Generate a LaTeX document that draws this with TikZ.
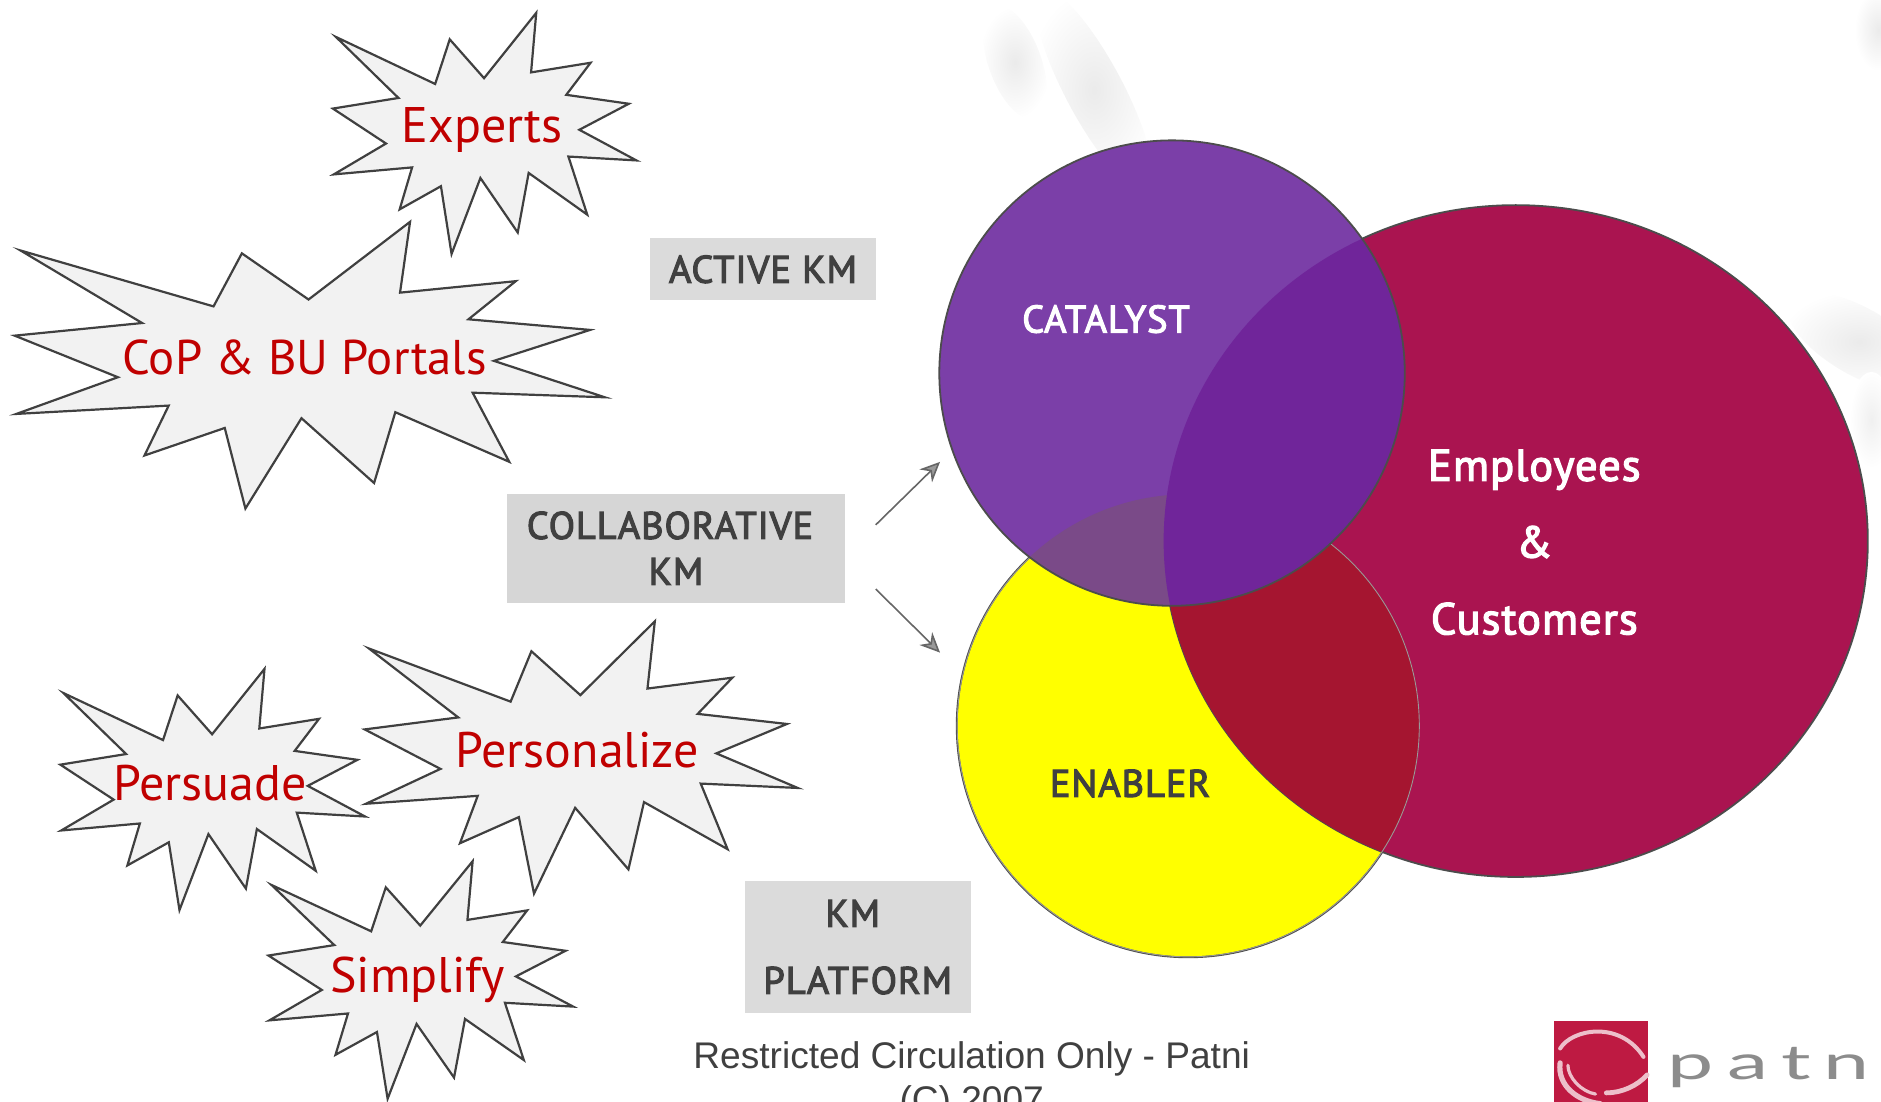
\documentclass[tikz,border=0pt]{standalone}
\usepackage{fontspec}
\setmainfont{PT Sans}
\newfontfamily\footfont{Liberation Sans}
\newfontfamily\kmfont[BoldFont={PT Sans},BoldFeatures={FakeBold=3},LetterSpace=2.5]{PT Sans}
\newfontfamily\logofont[LetterSpace=16]{Lato}
\usetikzlibrary{arrows.meta}
\definecolor{burstred}{HTML}{C00000}
\definecolor{darktext}{HTML}{404040}
\definecolor{logored}{HTML}{BE1A42}
\definecolor{catalystc}{HTML}{7B3FA8}
\definecolor{employeec}{HTML}{AA1450}
\definecolor{enablerc}{HTML}{FFFF00}
\definecolor{catempc}{HTML}{70259A}
\definecolor{catenac}{HTML}{7A4A88}
\definecolor{enaempc}{HTML}{A51530}
\tikzstyle{burst} = [draw=darktext, fill=black!5, line width=1.1pt, line join=miter]
\tikzstyle{burstlabel} = [text=burstred, font=\fontsize{25}{25}\selectfont, inner sep=0pt]
\tikzstyle{kmbox} = [fill=black!14, text=darktext, align=center, inner sep=0pt, font=\kmfont\bfseries\fontsize{19.2}{23}\selectfont]
\tikzstyle{venn} = [draw=black!70, line width=.9pt]
\tikzstyle{feed} = [draw=black!60, line width=.8pt, -{Stealth[length=10pt,width=9pt,fill=black!40]}]
\tikzstyle{smudge} = [inner color=black!8, outer color=white]
\tikzstyle{swirl} = [draw=white!72!logored, line cap=round]
\newcommand{\burstpath}{(1,10) -- (33.7,29.5) -- (38.5,11) -- (49.8,27.1) -- (67,0) -- (65.3,24.7) -- (84.9,20.7) -- (76.9,34) -- (97.5,37.7) -- (81.2,48.5) -- (100,61.2) -- (77.6,59.6) -- (83.8,83.7) -- (64.5,66.4) -- (60.9,91.1) -- (48.6,68.5) -- (39.1,100) -- (35.6,71.9) -- (22,81.5) -- (26.1,64.1) -- (0.3,67) -- (17.5,54.2) -- (0,39.7) -- (21.6,35.3) -- cycle}
\newcommand{\catalystpath}{(977,311) circle [radius=194]}
\newcommand{\employeepath}{(1263.5,451) ellipse [x radius=293.5, y radius=280]}
\newcommand{\enablerpath}{(990.5,605) circle [radius=193]}
\begin{document}
\begin{tikzpicture}[x=.6pt, y=-.6pt]
	\useasboundingbox (0,0) rectangle (1568,918.6);
	\clip (0,0) rectangle (1568,918.6);
	\shade[smudge, rotate around={-70:(846,52)}] (846,52) ellipse [x radius=50, y radius=22];
	\shade[smudge, rotate around={-62:(912,75)}] (912,75) ellipse [x radius=95, y radius=24];
	\shade[smudge] (1566,25) ellipse [x radius=20, y radius=34];
	\shade[smudge, rotate around={-30:(1550,285)}] (1550,285) ellipse [x radius=68, y radius=28];
	\shade[smudge, inner color=black!6] (1560,350) ellipse [x radius=18, y radius=40];

	\draw[burst, shift={(277.5,10.7)}, xscale=2.53, yscale=2.01] \burstpath;
	\draw[burst, shift={(12.2,184.9)}, xscale=4.92, yscale=2.39] \burstpath;
	\draw[burst, shift={(304,517.9)}, xscale=3.61, yscale=2.27] \burstpath;
	\draw[burst, shift={(50.3,557.6)}, xscale=2.54, yscale=2.01] \burstpath;
	\draw[burst, shift={(223.8,717.9)}, xscale=2.54, yscale=1.98] \burstpath;
	\node[burstlabel] (experts) at (402,108.5) {Experts};
	\node[burstlabel, font=\fontsize{24.4}{25}\selectfont] (portals) at (254,298) {CoP \& BU Portals};
	\node[burstlabel] (personalize) at (481,625) {Personalize};
	\node[burstlabel] (persuade) at (175,653) {Persuade};
	\node[burstlabel] (simplify) at (348,817) {Simplify};

	\node[kmbox, minimum width=113pt, minimum height=31pt] (active) at (636,224.5) {ACTIVE KM};
	\node[kmbox, minimum width=168.6pt, minimum height=54.6pt, fill=black!16] (collab) at (563.5,457) {COLLABORATIVE\hspace*{6pt}\\KM};
	\node[kmbox, minimum width=113pt, minimum height=66pt, font=\kmfont\bfseries\fontsize{19.2}{33.6}\selectfont] (platform) at (715,789.5) {KM\hspace*{5pt}\\PLATFORM};

	\coordinate (feedfrom1) at (730,437.5);
	\coordinate (feedto1) at (783.6,385);
	\coordinate (feedfrom2) at (730,491);
	\coordinate (feedto2) at (783.6,544);
	\draw[feed] (feedfrom1) -- (feedto1);
	\draw[feed] (feedfrom2) -- (feedto2);

	\fill[venn, fill=enablerc] \enablerpath;
	\fill[venn, fill=employeec] \employeepath;
	\begin{scope}
		\clip \enablerpath;
		\fill[enaempc] \employeepath;
		\draw[venn, draw=black!40] \enablerpath;
	\end{scope}
	\fill[catalystc] \catalystpath;
	\begin{scope}
		\clip \catalystpath;
		\fill[catenac] \enablerpath;
		\fill[catempc] \employeepath;
	\end{scope}
	\draw[venn] \catalystpath;

	\node[text=white, font=\kmfont\bfseries\fontsize{19.2}{23}\selectfont] (catalyst) at (922,266) {CATALYST};
	\node[text=darktext, font=\kmfont\bfseries\fontsize{19.2}{23}\selectfont] (enabler) at (942,653) {ENABLER};
	\node[text=white, align=center, font=\kmfont\bfseries\fontsize{22.2}{38.4}\selectfont] (people) at (1279,452) {Employees\\\&\\Customers};

	\node[text=darktext, align=center, font=\footfont\fontsize{18.55}{22}\selectfont] (footer) at (810,901) {Restricted Circulation Only - Patni\\(C) 2007};

	\fill[logored] (1295,851) rectangle (1374,919);
	\draw[swirl, line width=2pt] (1300.5,874) .. controls (1310,858) and (1350,850) .. (1370,881);
	\draw[swirl, line width=2.6pt] (1300.5,886) .. controls (1298,905) and (1315,918) .. (1334,920);
	\draw[swirl, line width=1.6pt] (1307,888) .. controls (1307,898) and (1318,910) .. (1330,912);
	\draw[swirl, line width=2.4pt] (1339,911) .. controls (1352,911) and (1365,905) .. (1373,896);
	\node[text=black!45, inner sep=0pt, anchor=west] (logotext) at (1390,890) {\scalebox{1.72}[1]{\logofont\fontsize{24}{24}\selectfont patn}};
\end{tikzpicture}
\end{document}
